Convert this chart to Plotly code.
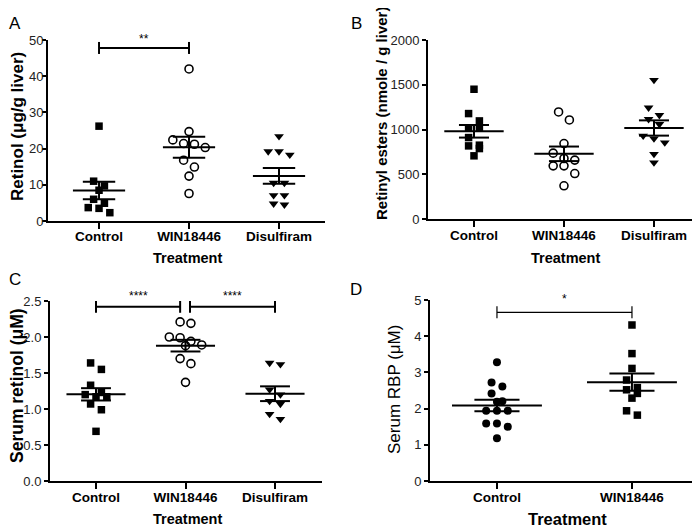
import numpy as np
import plotly.graph_objects as go

W, H = 700, 527
FONT = "Liberation Sans, Arial, sans-serif"

# ---- values ----
groups_abc = ["Control", "WIN18446", "Disulfiram"]
groups_d = ["Control", "WIN18446"]

# A: liver retinol (ug/g liver)
a_control = [26.2, 11.0, 9.7, 8.5, 6.0, 4.9, 3.7, 3.5, 2.3]
a_win = [42.0, 24.7, 22.4, 21.4, 21.2, 20.3, 16.8, 14.9, 12.4, 7.6]
a_disulfiram = [23.4, 19.2, 19.2, 18.3, 10.5, 10.5, 7.1, 7.1, 4.8, 4.5]

# B: liver retinyl esters (nmole / g liver)
b_control = [1450, 1178, 1096, 1015, 1015, 910, 825, 817, 787, 706]
b_win = [1196, 1107, 843, 736, 676, 658, 594, 594, 508, 371]
b_disulfiram = [1553, 1244, 1160, 1115, 1059, 929, 899, 854, 725, 631]

# C: serum retinol (uM)
c_control = [1.64, 1.55, 1.33, 1.23, 1.20, 1.17, 1.17, 1.07, 0.99, 0.69]
c_win = [2.21, 2.19, 2.00, 1.99, 1.94, 1.89, 1.88, 1.70, 1.63, 1.37]
c_disulfiram = [1.64, 1.62, 1.27, 1.20, 1.11, 1.07, 0.93, 0.86]

# D: serum RBP (uM)
d_control = [3.28, 2.72, 2.61, 2.42, 2.20, 2.19, 1.94, 1.94, 1.94, 1.59, 1.59, 1.50, 1.18]
d_win = [4.31, 3.52, 3.11, 2.79, 2.58, 2.52, 2.42, 2.29, 1.94, 1.82]

# significance brackets: (from x, to x, height, label)
a_sig = [(0, 1, 47.8, "**")]
c_sig = [(0, 0.94, 2.42, "****"), (1.05, 2, 2.42, "****")]
d_sig = [(0, 1, 4.66, "*")]

# the page shows the figure offset/squeezed a little: screen = offset + scale * figure px
OX, OY, SY = 8, 14, 0.9715


def px_x(px):
    return (px - OX) / W


def px_y(py):
    return 1 - (py - OY) / SY / H


def swarm(values, px_per_y, px_per_x, step=10.8, gap=8):
    # GraphPad-like column scatter: points closer than `gap` px share a row
    order = sorted(range(len(values)), key=lambda i: -values[i])
    rows = []
    for i in order:
        if rows and (values[rows[-1][0]] - values[i]) * px_per_y < gap:
            rows[-1].append(i)
        else:
            rows.append([i])
    offs = [0.0] * len(values)
    for row in rows:
        k = len(row)
        for j, i in enumerate(row):
            offs[i] = (j - (k - 1) / 2) * step / px_per_x
    return offs


sym3 = ["square", "circle-open", "triangle-down"]
panels = [
    dict(groups=groups_abc, series=[a_control, a_win, a_disulfiram], symbols=sym3,
         xr=[-0.567, 2.511], yr=[0, 50], dtick=10, fmt="", xpx=(48, 325), ypx=(220, 39),
         half=(0.29, 0.18), sig=a_sig, sigw=2, sigshift=0, ystand=-4, xstand=-4),
    dict(groups=groups_abc, series=[b_control, b_win, b_disulfiram], symbols=sym3,
         xr=[-0.511, 2.478], yr=[0, 2000], dtick=500, fmt="", xpx=(428, 697), ypx=(218, 39),
         half=(0.33, 0.167), sig=[], sigw=2, sigshift=0, ystand=0, xstand=-3),
    dict(groups=groups_abc, series=[c_control, c_win, c_disulfiram], symbols=sym3,
         xr=[-0.514, 2.525], yr=[0, 2.5], dtick=0.5, fmt=".1f", xpx=(50, 322), ypx=(480, 300),
         half=(0.33, 0.167), sig=c_sig, sigw=2, sigshift=2, ystand=0, xstand=-3),
    dict(groups=groups_d, series=[d_control, d_win], symbols=["circle", "square"],
         xr=[-0.496, 1.504], yr=[0, 5], dtick=1, fmt="", xpx=(430, 700), ypx=(480, 299),
         half=(0.333, 0.167), sig=d_sig, sigw=1.2, sigshift=4, ystand=0, xstand=-3),
]

fig = go.Figure()
layout = {}
annotations = []

for i, p in enumerate(panels):
    sfx = "" if i == 0 else str(i + 1)
    xa, ya = "x" + sfx, "y" + sfx
    px_per_x = (p["xpx"][1] - p["xpx"][0]) / (p["xr"][1] - p["xr"][0])
    px_per_y = (p["ypx"][0] - p["ypx"][1]) / (p["yr"][1] - p["yr"][0])

    layout["xaxis" + sfx] = dict(
        domain=[px_x(p["xpx"][0]), min(1, px_x(p["xpx"][1]))], range=p["xr"], anchor=ya,
        tickvals=list(range(len(p["groups"]))), ticktext=p["groups"],
        tickfont=dict(family=FONT, size=13.5, color="black", weight="bold"),
        ticklabelstandoff=p["xstand"],
        showline=True, linewidth=2, linecolor="black", ticks="outside",
        ticklen=6, tickwidth=2, tickcolor="black", showgrid=False, zeroline=False)
    layout["yaxis" + sfx] = dict(
        domain=[px_y(p["ypx"][0]), px_y(p["ypx"][1])], range=p["yr"], anchor=xa,
        tick0=0, dtick=p["dtick"], tickformat=p["fmt"],
        tickfont=dict(family=FONT, size=13, color="#222"),
        ticklabelstandoff=p["ystand"],
        showline=True, linewidth=2, linecolor="black", ticks="outside",
        ticklen=4, tickwidth=2, tickcolor="black", showgrid=False, zeroline=False)

    mx, my = [], []
    for g, (vals, sym) in enumerate(zip(p["series"], p["symbols"])):
        offs = swarm(vals, px_per_y, px_per_x)
        open_marker = sym.endswith("open")
        size = {"square": 7.5, "circle-open": 8, "triangle-down": 8.5, "circle": 8}[sym]
        fig.add_trace(go.Scatter(
            x=[g + o for o in offs], y=vals, mode="markers", xaxis=xa, yaxis=ya,
            cliponaxis=False, showlegend=False,
            marker=dict(symbol=sym, size=size, color="black",
                        line=dict(color="black", width=1.6 if open_marker else 0))))
        v = np.array(vals, dtype=float)
        m = v.mean()
        s = v.std(ddof=1) / np.sqrt(len(v))
        hm, hs = p["half"]
        mx += [g - hm, g + hm, None, g - hs, g + hs, None, g - hs, g + hs, None, g, g, None]
        my += [m, m, None, m + s, m + s, None, m - s, m - s, None, m - s, m + s, None]
    fig.add_trace(go.Scatter(x=mx, y=my, mode="lines", xaxis=xa, yaxis=ya, showlegend=False,
                             line=dict(color="black", width=2)))

    t = 6 / px_per_y
    for x0, x1, h, label in p["sig"]:
        fig.add_trace(go.Scatter(
            x=[x0, x0, None, x0, x1, None, x1, x1],
            y=[h - t, h + t, None, h, h, None, h - t, h + t],
            mode="lines", xaxis=xa, yaxis=ya, showlegend=False,
            line=dict(color="black", width=p["sigw"])))
        annotations.append(dict(x=(x0 + x1) / 2, y=h, xref=xa, yref=ya, text=label,
                                showarrow=False, yanchor="bottom", yshift=p["sigshift"],
                                font=dict(family=FONT, size=12, color="black")))


def label(px, py, text, size, bold=False, angle=0):
    annotations.append(dict(
        x=px_x(px), y=px_y(py), xref="paper", yref="paper", text=text, showarrow=False,
        textangle=angle, xanchor="center", yanchor="middle",
        font=dict(family=FONT, size=size, color="black", weight="bold" if bold else "normal")))


# panel letters
label(15, 22, "A", 17)
label(356, 22, "B", 17)
label(15, 278, "C", 17)
label(356, 288, "D", 17)

# axis titles
label(17, 126, "Retinol (μg/g liver)", 17, bold=True, angle=-90)
label(381, 112, "Retinyl esters (nmole / g liver)", 15, bold=True, angle=-90)
label(17, 385, "Serum retinol (μM)", 17.5, bold=True, angle=-90)
label(394, 388, "Serum RBP (μM)", 17, angle=-90)
label(187, 257, "Treatment", 14.5, bold=True)
label(565, 257, "Treatment", 14.5, bold=True)
label(187, 518, "Treatment", 14.5, bold=True)
label(567, 518, "Treatment", 16.5, bold=True)

fig.update_layout(**layout)
fig.update_layout(
    width=W, height=H, margin=dict(l=0, r=0, t=0, b=0),
    plot_bgcolor="white", paper_bgcolor="white",
    font=dict(family=FONT, color="black"),
    annotations=annotations, showlegend=False)

fig.write_html("out.html")
